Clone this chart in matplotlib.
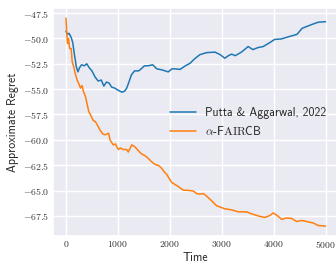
import matplotlib
matplotlib.use('Agg')
import matplotlib.pyplot as plt
import seaborn as sns

# regret curves (time step, approximate regret)
putta_t = [0, 30, 60, 100, 130, 160, 200, 230, 260, 300, 350, 400, 450, 500, 560,
           620, 680, 730, 780, 830, 880, 940, 1000, 1080, 1130, 1170, 1220, 1260,
           1320, 1400, 1450, 1510, 1580, 1670, 1750, 1850, 1970, 2040, 2090, 2200,
           2300, 2390, 2480, 2580, 2710, 2870, 2970, 3060, 3130, 3190, 3260, 3380,
           3510, 3600, 3700, 3800, 3930, 4020, 4150, 4310, 4450, 4550, 4650, 4750,
           4860, 5000]
putta_regret = [-49.3, -49.6, -49.5, -49.9, -50.4, -51.5, -52.8, -53.3, -52.9, -52.6,
                -52.7, -52.5, -52.9, -53.2, -53.8, -54.2, -54.1, -54.7, -54.3, -54.4,
                -54.8, -54.9, -55.1, -55.3, -55.2, -54.9, -54.2, -53.6, -53.2, -53.2,
                -53.0, -52.7, -52.7, -52.6, -53.0, -53.1, -53.3, -53.0, -53.0, -53.05,
                -52.7, -52.45, -52.0, -51.6, -51.4, -51.35, -51.6, -51.95, -51.7, -51.55,
                -51.7, -51.35, -50.8, -51.1, -50.9, -50.8, -50.4, -50.1, -50.05, -49.8,
                -49.6, -49.0, -48.8, -48.6, -48.4, -48.35]

fair_t = [0, 15, 30, 50, 70, 100, 120, 150, 180, 215, 250, 280, 310, 340, 374, 400,
          438, 480, 526, 566, 622, 662, 719, 760, 796, 822, 848, 911, 950, 1008, 1046,
          1100, 1169, 1200, 1230, 1266, 1300, 1330, 1400, 1458, 1500, 1560, 1618, 1682,
          1747, 1778, 1843, 1900, 1940, 2036, 2132, 2260, 2389, 2453, 2518, 2580, 2645,
          2700, 2805, 2902, 3062, 3191, 3320, 3480, 3577, 3738, 3834, 3930, 3994, 4091,
          4155, 4251, 4347, 4444, 4540, 4636, 4765, 4862, 5000]
fair_regret = [-48.0, -49.5, -50.5, -50.0, -51.0, -51.0, -52.3, -52.8, -53.5, -54.1,
               -54.5, -54.9, -54.65, -55.3, -55.7, -56.3, -57.2, -57.6, -58.1, -58.2,
               -58.7, -59.1, -59.45, -59.5, -59.4, -59.35, -60.0, -60.5, -60.4, -60.95,
               -60.8, -60.95, -60.95, -61.2, -60.9, -60.5, -60.6, -60.7, -61.1, -61.4,
               -61.5, -61.7, -62.0, -62.3, -62.5, -62.5, -62.8, -63.2, -63.4, -64.2,
               -64.5, -64.95, -65.0, -65.05, -65.3, -65.35, -65.3, -65.5, -66.0, -66.5,
               -66.8, -66.9, -67.1, -67.1, -67.3, -67.55, -67.65, -67.45, -67.2, -67.55,
               -67.85, -67.7, -67.75, -68.05, -67.95, -68.05, -68.2, -68.45, -68.5]

x_ticks = [0, 1000, 2000, 3000, 4000, 5000]
y_ticks = [-67.5, -65.0, -62.5, -60.0, -57.5, -55.0, -52.5, -50.0, -47.5]
labels = ['Putta & Aggarwal, 2022', r'$\alpha$-F$\mathrm{AIR}$CB']

sns.set_theme(style='darkgrid')
plt.rcParams['font.family'] = ['cmss10', 'DejaVu Sans']
plt.rcParams['mathtext.fontset'] = 'cm'
plt.rcParams['axes.formatter.use_mathtext'] = True

fig = plt.figure(figsize=(3.36, 2.67), dpi=100)
ax = fig.add_axes([53 / 336, 31 / 267, 285.5 / 336, 228 / 267])

ax.plot(putta_t, putta_regret, color='#1f77b4', lw=1.1, label=labels[0])
ax.plot(fair_t, fair_regret, color='#ff7f0e', lw=1.1, label=labels[1])

ax.set_xlim(-250, 5250)
ax.set_ylim(-69.48, -47.0)
ax.set_xticks(x_ticks)
ax.set_yticks(y_ticks)
ax.set_yticklabels([f'${v:.1f}$' for v in y_ticks])
ax.set_xticklabels([f'${v:d}$' for v in x_ticks])
ax.tick_params(labelsize=7, pad=2.5, length=0, labelcolor='#333333')
ax.set_xlabel('Time', fontsize=8.5, labelpad=1)
ax.set_ylabel('Approximate Regret', fontsize=8.5, labelpad=3)

ax.legend(loc='upper left', bbox_to_anchor=(0.41, 0.565), frameon=False,
          fontsize=8.5, borderpad=0, borderaxespad=0, handlelength=2.2)

fig.savefig('out.png', dpi=100)
